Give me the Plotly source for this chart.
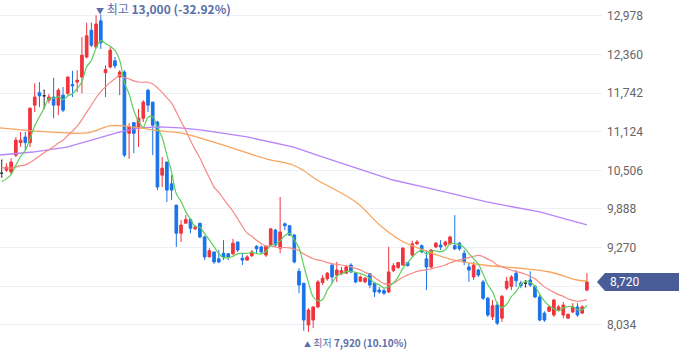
import plotly.graph_objects as go
import pandas as pd

# ---------------- data ----------------
opens = [10460, 10510, 10480, 10750, 10950, 11040, 10950, 11550, 11750, 11700,
         11630, 11680, 11550, 11710, 11740, 11880, 11920, 12000, 12320, 12750,
         12480, 12900, 12070, 12160, 12260, 12000, 12080, 11100, 11270, 11180,
         11340, 11790, 11600, 11280, 10430, 10640, 10290, 9950, 9500, 9660,
         9720, 9570, 9660, 9440, 9120, 9200, 9090, 9180, 9170, 9170,
         9360, 9100, 9070, 9140, 9290, 9280, 9150, 9310, 9550, 9260,
         9650, 9620, 9470, 8890, 8700, 8030, 8110, 8320, 8710, 8770,
         8990, 8830, 8850, 8860, 8990, 8860, 8730, 8720, 8850, 8700,
         8590, 8580, 8560, 8900, 8950, 8990, 9030, 9150, 9330, 9300,
         9090, 8960, 9280, 9310, 9310, 9330, 9300, 9340, 9180, 8960,
         8800, 8910, 8720, 8460, 8160, 8350, 8140, 8620, 8650, 8860,
         8700, 8700, 8750, 8650, 8480, 8220, 8250, 8190, 8270, 8190,
         8140, 8240, 8320, 8220, 8590]
highs = [10670, 10620, 10700, 11040, 11120, 11120, 11520, 11900, 11920, 11790,
         11730, 11990, 11820, 11840, 12010, 12100, 12110, 12640, 12870, 12870,
         12990, 13000, 12190, 12480, 12320, 12110, 12110, 11260, 11280, 11490,
         11630, 11810, 11600, 11300, 10720, 10640, 10430, 9950, 9710, 9790,
         9740, 9630, 9660, 9460, 9260, 9200, 9230, 9390, 9180, 9410,
         9360, 9180, 9150, 9230, 9310, 9300, 9310, 9580, 9570, 10080,
         9670, 9630, 9490, 8940, 8700, 8300, 8320, 8750, 8830, 8880,
         9020, 9040, 8960, 8990, 9020, 8880, 8820, 8800, 8860, 8720,
         8640, 8610, 9280, 9020, 9040, 9280, 9040, 9380, 9390, 9320,
         9230, 9250, 9360, 9390, 9380, 9460, 9790, 9360, 9230, 9020,
         9040, 8930, 8750, 8480, 8430, 8400, 8510, 8800, 8830, 8910,
         8740, 8740, 8890, 8670, 8510, 8250, 8340, 8450, 8350, 8400,
         8220, 8380, 8380, 8350, 8860]
lows = [10400, 10480, 10440, 10720, 10880, 10830, 10880, 11440, 11520, 11500,
        11580, 11340, 11390, 11440, 11710, 11680, 11760, 11740, 12300, 12480,
        12460, 12450, 11680, 12140, 12140, 11710, 10720, 10690, 10780, 10880,
        11280, 11440, 10750, 10190, 10240, 10000, 10030, 9280, 9360, 9660,
        9500, 9550, 9420, 9070, 9120, 9010, 9020, 9070, 9070, 9150,
        9200, 8990, 9060, 9120, 9180, 9180, 9120, 9300, 9280, 9180,
        9550, 9460, 9020, 8540, 7940, 7920, 7980, 8300, 8670, 8740,
        8700, 8720, 8830, 8850, 8860, 8700, 8720, 8700, 8620, 8480,
        8530, 8510, 8540, 8880, 8930, 8980, 8970, 9120, 9310, 9180,
        8590, 8940, 9260, 9230, 9280, 9310, 9230, 9220, 8990, 8720,
        8750, 8800, 8430, 8160, 8110, 8030, 8080, 8590, 8590, 8640,
        8620, 8640, 8640, 8460, 8090, 8080, 8240, 8160, 8250, 8140,
        8130, 8220, 8160, 8210, 8570]
closes = [10460, 10560, 10640, 10990, 10990, 10950, 11500, 11680, 11700, 11700,
          11680, 11550, 11790, 11470, 12000, 11860, 11950, 12350, 12660, 12510,
          12850, 12550, 12120, 12430, 12180, 12080, 10750, 11200, 11100, 11340,
          11600, 11550, 11230, 10240, 10540, 10190, 10190, 9500, 9630, 9720,
          9580, 9600, 9440, 9120, 9220, 9040, 9040, 9120, 9120, 9340,
          9230, 9070, 9120, 9200, 9250, 9200, 9290, 9570, 9310, 9520,
          9620, 9470, 9040, 8670, 8110, 8270, 8320, 8720, 8780, 8860,
          8800, 8910, 8900, 8960, 8880, 8720, 8800, 8780, 8670, 8560,
          8560, 8540, 8880, 8980, 9030, 9260, 8980, 9330, 9360, 9200,
          8960, 9230, 9340, 9280, 9360, 9440, 9250, 9250, 9040, 8910,
          8990, 8830, 8460, 8190, 8340, 8060, 8490, 8730, 8800, 8740,
          8660, 8700, 8670, 8480, 8110, 8110, 8320, 8430, 8320, 8350,
          8200, 8320, 8190, 8320, 8720]
# closes before the visible window (estimated, only used for MA warm-up)
prior_closes = [10650, 10700, 10620, 10580, 10700, 10750, 10680, 10600, 10650, 10700,
                10620, 10560, 10600, 10500, 10450, 10350, 10300, 10250, 10280]

# long moving averages (candle index, value)
ma60_idx = [-0.36, 6.6, 13.8, 18.1, 22.9, 25.1, 29.3, 33.5, 37.8, 44.8, 52.0, 56.2,
            61.7, 63.8, 66.8, 69.6, 75.3, 80.1, 84.4, 89.3, 95.0, 102.0, 109.2,
            116.2, 121.9, 124.0]
ma60_val = [11185, 11137, 11105, 11105, 11217, 11223, 11185, 11137, 11105, 10961,
            10785, 10688, 10592, 10512, 10352, 10240, 9984, 9632, 9392, 9232, 9087,
            8991, 8943, 8879, 8751, 8735]
ma120_idx = [-0.36, 6.6, 13.8, 20.8, 25.1, 29.3, 33.5, 37.8, 42.1, 52.0, 61.7, 68.1,
             75.3, 82.9, 89.3, 102.8, 114.0, 124.0]
ma120_val = [10752, 10800, 10880, 11025, 11121, 11185, 11201, 11185, 11153, 11041,
             10881, 10720, 10544, 10352, 10240, 10000, 9840, 9632]

ytick_vals = [8034, 8652, 9270, 9888, 10506, 11124, 11742, 12360, 12978]
ytick_text = ["8,034", "", "9,270", "9,888", "10,506", "11,124", "11,742", "12,360", "12,978"]

# ---------------- styling ----------------
RED = "#f0343c"
BLUE = "#1a73e8"
DOJI = "#333333"
GREEN = "#5ccf5c"
MA20C = "#f58a84"
ORANGE = "#f7a55e"
PURPLE = "#b784f7"
BADGE = "#4a5c98"
LABEL = "#5a6ea8"

Y_MIN, Y_MAX = 7502, 13234
X_MIN, X_MAX = -0.36, 127.2

n = len(closes)
xs = list(range(n))
all_close = pd.Series(prior_closes + closes, dtype=float)
ma5 = all_close.rolling(5).mean().iloc[-n:].tolist()
ma20 = all_close.rolling(20).mean().iloc[-n:].tolist()

fig = go.Figure()

nd = [i for i in xs if opens[i] != closes[i]]
dj = [i for i in xs if opens[i] == closes[i]]


def sub(arr, idx):
    return [arr[i] for i in idx]


fig.add_trace(go.Candlestick(
    x=nd, open=sub(opens, nd), high=sub(highs, nd), low=sub(lows, nd), close=sub(closes, nd),
    increasing=dict(line=dict(color=RED, width=1), fillcolor=RED),
    decreasing=dict(line=dict(color=BLUE, width=1), fillcolor=BLUE),
    whiskerwidth=0, hoverinfo="skip", showlegend=False))
fig.add_trace(go.Candlestick(
    x=dj, open=sub(opens, dj), high=sub(highs, dj), low=sub(lows, dj), close=sub(closes, dj),
    increasing=dict(line=dict(color=DOJI, width=1), fillcolor=DOJI),
    decreasing=dict(line=dict(color=DOJI, width=1), fillcolor=DOJI),
    whiskerwidth=0.6, hoverinfo="skip", showlegend=False))

fig.add_trace(go.Scatter(x=ma120_idx, y=ma120_val, mode="lines",
                         line=dict(color=PURPLE, width=1.3), hoverinfo="skip", showlegend=False))
fig.add_trace(go.Scatter(x=ma60_idx, y=ma60_val, mode="lines", line_shape="spline",
                         line=dict(color=ORANGE, width=1.3), hoverinfo="skip", showlegend=False))
fig.add_trace(go.Scatter(x=xs, y=ma20, mode="lines", line_shape="spline",
                         line=dict(color=MA20C, width=1.2), hoverinfo="skip", showlegend=False))
fig.add_trace(go.Scatter(x=xs, y=ma5, mode="lines", line_shape="spline",
                         line=dict(color=GREEN, width=1.2), hoverinfo="skip", showlegend=False))

# high / low annotations
hi_i = max(xs, key=lambda i: highs[i])
lo_i = min(xs, key=lambda i: lows[i])
last = closes[-1]
hi_pct = (last - highs[hi_i]) / highs[hi_i] * 100
lo_pct = (last - lows[lo_i]) / lows[lo_i] * 100
FONT = "Noto Sans CJK KR, Noto Sans, sans-serif"

fig.add_annotation(x=hi_i, y=highs[hi_i], xref="x", yref="y", xanchor="left", yanchor="middle",
                   xshift=-7, yshift=6, showarrow=False,
                   text=f"<span style='font-size:8px'>▼</span> 최고 <b>{highs[hi_i]:,} ({hi_pct:.2f}%)</b>",
                   font=dict(family=FONT, size=12, color=LABEL))
fig.add_annotation(x=lo_i, y=lows[lo_i], xref="x", yref="y", xanchor="left", yanchor="middle",
                   xshift=-6, yshift=-11, showarrow=False,
                   text=f"<span style='font-size:7px'>▲</span> 최저 <b>{lows[lo_i]:,} ({lo_pct:.2f}%)</b>",
                   font=dict(family=FONT, size=10, color=LABEL))

# current-price badge on the axis
W, H = 680, 358
plot_w = 602
py = (last - Y_MIN) / (Y_MAX - Y_MIN)
hh = 9 / H
tip = 597 / plot_w
left = 605 / plot_w
right = 679 / plot_w
fig.add_shape(type="path", xref="paper", yref="paper", layer="above",
              path=(f"M {tip} {py} L {left} {py + hh} L {right} {py + hh} "
                    f"L {right} {py - hh} L {left} {py - hh} Z"),
              fillcolor=BADGE, line=dict(width=0))
fig.add_annotation(x=608 / plot_w, y=last, xref="paper", yref="y", xanchor="left", yanchor="middle",
                   showarrow=False, text=f"{last:,}",
                   font=dict(family="Roboto, Noto Sans, sans-serif", size=12, color="white"))

fig.update_layout(
    width=W, height=H,
    margin=dict(l=0, r=W - plot_w, t=0, b=0),
    paper_bgcolor="white", plot_bgcolor="white",
    boxgap=0.3, boxgroupgap=0.2,
    hovermode=False,
    xaxis=dict(range=[X_MIN, X_MAX], showgrid=False, zeroline=False, showticklabels=False,
               showline=False, ticks="", rangeslider=dict(visible=False), fixedrange=True),
    yaxis=dict(range=[Y_MIN, Y_MAX], side="right", tickvals=ytick_vals, ticktext=ytick_text,
               showgrid=True, gridcolor="#eef0f7", gridwidth=1, zeroline=False, showline=False,
               ticks="", ticklabelstandoff=4,
               tickfont=dict(family="Roboto, Noto Sans, sans-serif", size=12, color="#666666"),
               fixedrange=True),
)

fig.write_html("out.html", config={"displayModeBar": False},
               post_script="document.body.style.margin='0';")
